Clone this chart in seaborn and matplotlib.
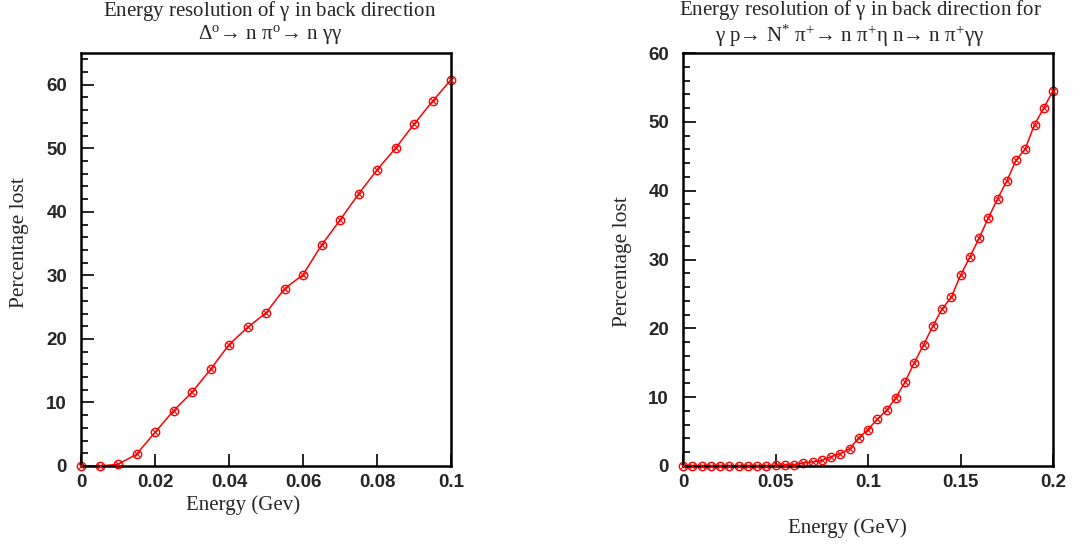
import matplotlib
matplotlib.use("Agg")
import matplotlib.pyplot as plt
from matplotlib.ticker import MultipleLocator
import numpy as np
import pandas as pd
import seaborn as sns

# Delta -> n pi0 -> n gamma gamma: energy cut (GeV) vs. percentage lost
delta_energy = [0.000, 0.005, 0.010, 0.015, 0.020, 0.025, 0.030, 0.035, 0.040, 0.045,
                0.050, 0.055, 0.060, 0.065, 0.070, 0.075, 0.080, 0.085, 0.090, 0.095, 0.100]
delta_lost = [0.0, 0.0, 0.26, 1.84, 5.3, 8.7, 11.6, 15.2, 19.1, 21.8,
              24.1, 27.9, 30.1, 34.75, 38.7, 42.8, 46.6, 50.0, 53.8, 57.4, 60.8]

# gamma p -> N* pi+ -> n pi+ eta -> n pi+ gamma gamma
nstar_energy = [0.000, 0.005, 0.010, 0.015, 0.020, 0.025, 0.030, 0.035, 0.040, 0.045,
                0.050, 0.055, 0.060, 0.065, 0.070, 0.075, 0.080, 0.085, 0.090, 0.095,
                0.100, 0.105, 0.110, 0.115, 0.120, 0.125, 0.130, 0.135, 0.140, 0.145,
                0.150, 0.155, 0.160, 0.165, 0.170, 0.175, 0.180, 0.185, 0.190, 0.195, 0.200]
nstar_lost = [0.05, 0.05, 0.05, 0.05, 0.05, 0.05, 0.05, 0.05, 0.05, 0.05,
              0.1, 0.15, 0.2, 0.45, 0.6, 0.8, 1.35, 1.8, 2.5, 4.1,
              5.3, 6.8, 8.1, 9.9, 12.2, 15.0, 17.6, 20.3, 22.8, 24.5,
              27.7, 30.3, 33.1, 36.0, 38.8, 41.4, 44.4, 46.1, 49.6, 52.0, 54.5]

sns.set_theme(style="ticks")
plt.rcParams.update({
    "font.family": ["Liberation Sans", "DejaVu Sans"],
    "mathtext.fontset": "custom",
    "mathtext.rm": "Liberation Serif",
    "mathtext.it": "Liberation Serif",
    "mathtext.bf": "Liberation Serif:bold",
    "axes.linewidth": 1.8,
    "axes.edgecolor": "black",
})
SERIF = ["Liberation Serif", "DejaVu Serif"]
RED = "#ff0000"
FS = 15

fig = plt.figure(figsize=(10.76, 5.46), dpi=100)
W, H = 1076, 546
ax1 = fig.add_axes([81 / W, 1 - 466 / H, 370 / W, 413 / H])
ax2 = fig.add_axes([683 / W, 1 - 466 / H, 370 / W, 413 / H])

df1 = pd.DataFrame({"energy": delta_energy, "lost": delta_lost})
df2 = pd.DataFrame({"energy": nstar_energy, "lost": nstar_lost})


def draw(ax, df):
    sns.lineplot(data=df, x="energy", y="lost", ax=ax, color=RED, linewidth=1.1,
                 marker="o", markersize=6, markerfacecolor="none",
                 markeredgecolor=RED, markeredgewidth=1.0, clip_on=False)
    sns.scatterplot(data=df, x="energy", y="lost", ax=ax, marker="x", s=12,
                    color=RED, linewidth=0.8, clip_on=False, zorder=5)
    ax.set_xlabel("")
    ax.set_ylabel("")
    ax.tick_params(axis="both", which="both", direction="in", color="black",
                   labelsize=13.5, width=1.2)
    ax.tick_params(axis="both", which="major", length=9)
    ax.tick_params(axis="y", which="minor", length=5)
    ax.tick_params(axis="x", which="major", pad=6)
    ax.tick_params(axis="y", which="major", pad=10)
    ax.yaxis.set_minor_locator(MultipleLocator(2))
    for s in ax.spines.values():
        s.set_visible(True)
        s.set_color("black")


draw(ax1, df1)
ax1.set_xlim(0, 0.1)
ax1.set_ylim(0, 65)
ax1.set_xticks([0, 0.02, 0.04, 0.06, 0.08, 0.1])
ax1.set_xticklabels(["0", "0.02", "0.04", "0.06", "0.08", "0.1"], fontweight="bold")
ax1.set_yticks([0, 10, 20, 30, 40, 50, 60])
ax1.set_yticklabels(["0", "10", "20", "30", "40", "50", "60"], fontweight="bold")

draw(ax2, df2)
ax2.set_xlim(0, 0.2)
ax2.set_ylim(0, 60)
ax2.set_xticks([0, 0.05, 0.1, 0.15, 0.2])
ax2.set_xticklabels(["0", "0.05", "0.1", "0.15", "0.2"], fontweight="bold")
ax2.set_yticks([0, 10, 20, 30, 40, 50, 60])
ax2.set_yticklabels(["0", "10", "20", "30", "40", "50", "60"], fontweight="bold")

# titles
fig.text(270 / W, 1 - 11 / H, r"Energy resolution of $\gamma$ in back direction",
         ha="center", va="center", fontsize=FS, family=SERIF)
fig.text(270 / W, 1 - 35 / H,
         r"$\Delta^{\mathrm{o}}$→ n $\pi^{\mathrm{o}}$→ n $\gamma\gamma$",
         ha="center", va="center", fontsize=FS, family=SERIF)
fig.text(860 / W, 1 - 10 / H, r"Energy resolution of $\gamma$ in back direction for",
         ha="center", va="center", fontsize=FS, family=SERIF)
fig.text(850 / W, 1 - 36 / H,
         r"$\gamma$ p→ N$^{*}$ $\pi^{+}$→ n $\pi^{+}\eta$ n→ n $\pi^{+}\gamma\gamma$",
         ha="center", va="center", fontsize=FS, family=SERIF)

# axis titles
fig.text(243 / W, 1 - 505 / H, "Energy (Gev)", ha="center", va="center",
         fontsize=FS, family=SERIF)
fig.text(847 / W, 1 - 528 / H, "Energy (GeV)", ha="center", va="center",
         fontsize=FS, family=SERIF)
fig.text(20 / W, 1 - 243 / H, "Percentage lost", ha="center", va="center",
         rotation=90, fontsize=15.5, family=SERIF)
fig.text(622 / W, 1 - 262 / H, "Percentage lost", ha="center", va="center",
         rotation=90, fontsize=15.5, family=SERIF)

fig.savefig("out.png", dpi=100, facecolor="white")
